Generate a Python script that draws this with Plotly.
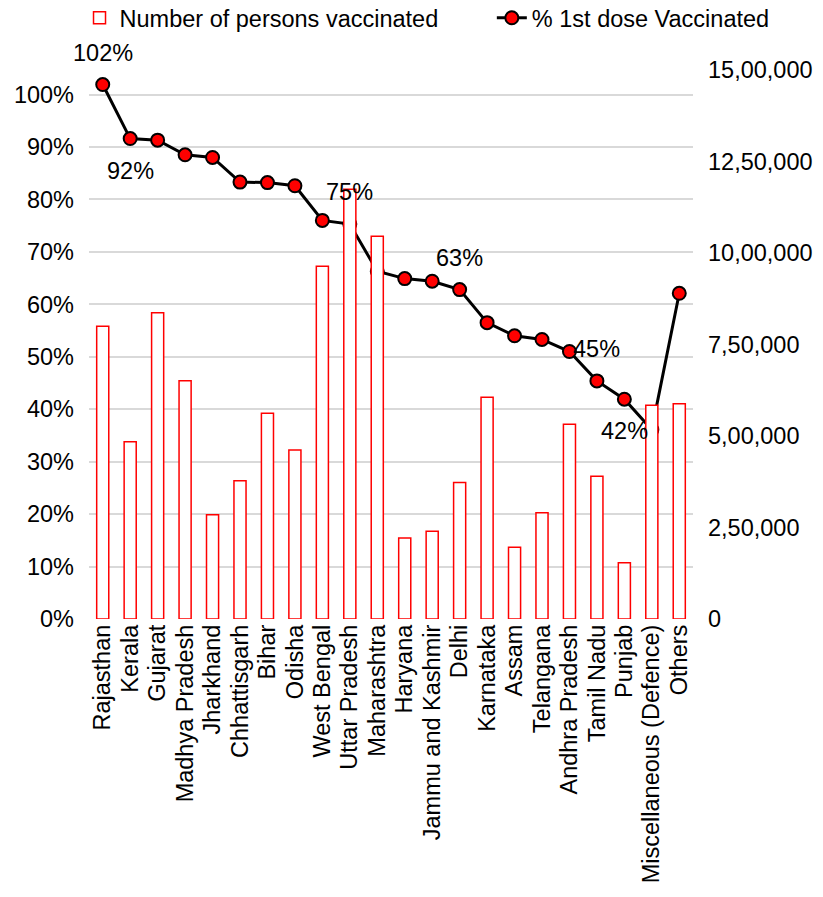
import plotly.graph_objects as go

states = ["Rajasthan", "Kerala", "Gujarat", "Madhya Pradesh", "Jharkhand", "Chhattisgarh",
          "Bihar", "Odisha", "West Bengal", "Uttar Pradesh", "Maharashtra", "Haryana",
          "Jammu and Kashmir", "Delhi", "Karnataka", "Assam", "Telangana", "Andhra Pradesh",
          "Tamil Nadu", "Punjab", "Miscellaneous (Defence)", "Others"]

persons_vaccinated = [800000, 484000, 837000, 651000, 285000, 378000,
                      562000, 462000, 964000, 1174000, 1046000, 221000,
                      240000, 373000, 606000, 196000, 290000, 532000,
                      390000, 154000, 584000, 588000]

pct_first_dose = [1.019, 0.916, 0.913, 0.885, 0.880, 0.833,
                  0.832, 0.826, 0.760, 0.753, 0.663, 0.649,
                  0.644, 0.628, 0.565, 0.540, 0.533, 0.510,
                  0.454, 0.419, 0.361, 0.621]

# which points carry a data label, and where (+1 above, -1 below)
label_points = {"Rajasthan": 1, "Kerala": -1, "Uttar Pradesh": 1, "Delhi": 1,
                "Tamil Nadu": 1, "Punjab": -1}

right_tickvals = [0, 250000, 500000, 750000, 1000000, 1250000, 1500000]
right_ticktext = ["0", "2,50,000", "5,00,000", "7,50,000", "10,00,000", "12,50,000", "15,00,000"]
left_tickvals = [0, 0.1, 0.2, 0.3, 0.4, 0.5, 0.6, 0.7, 0.8, 0.9, 1.0]

FONT = "Liberation Sans, Arial, sans-serif"
FS = 23.5

fig = go.Figure()
fig.add_trace(go.Bar(
    x=states, y=persons_vaccinated, name="Number of persons vaccinated",
    yaxis="y2", width=0.44, legend="legend",
    marker=dict(color="rgba(255,255,255,1)", line=dict(color="#ff0000", width=1.5)),
))
fig.add_trace(go.Scatter(
    x=states, y=pct_first_dose, name="% 1st dose Vaccinated",
    mode="lines+markers", yaxis="y", legend="legend2",
    line=dict(color="#000000", width=3),
    marker=dict(color="#ff0000", size=13, line=dict(color="#000000", width=2)),
))

for s, v in zip(states, pct_first_dose):
    if s in label_points:
        d = label_points[s]
        fig.add_annotation(x=s, y=v, yref="y", text=f"{round(v*100)}%", showarrow=False,
                           yshift=32 * d, font=dict(family=FONT, size=FS, color="#000"))

H = 577.0
L, R, T = 88.5, 693.5, 42
W = R - L
legend_common = dict(orientation="h", xanchor="left", y=1 + (T - 18) / H, yanchor="middle",
                     font=dict(family=FONT, size=FS, color="#000"),
                     bgcolor="rgba(0,0,0,0)")
fig.update_layout(
    width=823, height=897,
    margin=dict(l=L, r=823 - R, t=T, b=278, autoexpand=False),
    paper_bgcolor="white", plot_bgcolor="white",
    font=dict(family=FONT, size=FS, color="#000"),
    showlegend=True,
    legend=dict(x=(79 - L) / W, **legend_common),
    legend2=dict(x=(492 - L) / W, **legend_common),
    xaxis=dict(tickangle=-90, showgrid=False, showline=False, ticks="", automargin=False,
               range=[-0.5, len(states) - 0.5], tickmode="array", tickvals=states,
               tickfont=dict(family=FONT, size=FS, color="#000")),
    yaxis=dict(range=[0, H / 524.5], tickvals=left_tickvals, tickformat=".0%",
               showgrid=True, gridcolor="#d9d9d9", gridwidth=1.5, zeroline=False,
               showline=False, ticks="", ticklabelstandoff=14, automargin=False,
               tickfont=dict(family=FONT, size=FS, color="#000")),
    yaxis2=dict(range=[0, H / 91.5 * 250000], overlaying="y", side="right",
                tickvals=right_tickvals, ticktext=right_ticktext, showgrid=False,
                zeroline=False, showline=False, ticks="", ticklabelstandoff=14,
                automargin=False,
                tickfont=dict(family=FONT, size=FS, color="#000")),
)

fig.write_html("out.html")
